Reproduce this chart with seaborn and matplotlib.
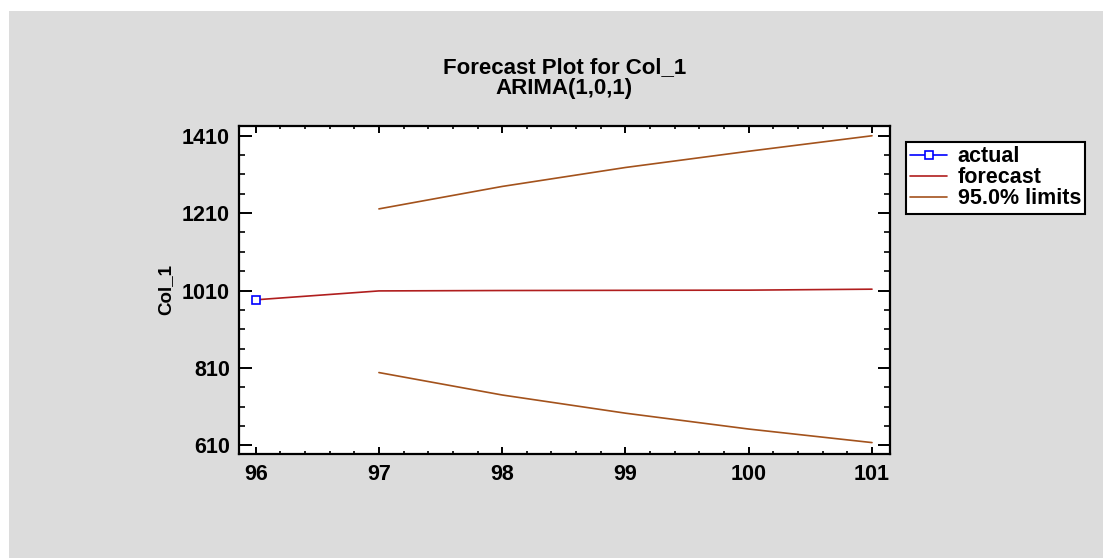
import numpy as np
import pandas as pd
import matplotlib
matplotlib.use("Agg")
import matplotlib.pyplot as plt
from matplotlib.patches import Rectangle
from matplotlib.ticker import FixedLocator
import seaborn as sns

# ---- data ----
periods = [96, 97, 98, 99, 100, 101]
actual_period = [96]
actual_values = [986]
forecast_values = [986, 1009, 1010, 1010.5, 1011, 1013.5]
limit_periods = [97, 98, 99, 100, 101]
upper_limits = [1221, 1279, 1328, 1370, 1410]
lower_limits = [798, 740, 693, 652, 617]
y_major_ticks = [610, 810, 1010, 1210, 1410]
x_major_ticks = [96, 97, 98, 99, 100, 101]

title_text = "Forecast Plot for Col_1\nARIMA(1,0,1)"
y_label = "Col_1"

sns.set_theme(style="ticks")
plt.rcParams['font.family'] = ['Liberation Sans', 'DejaVu Sans']
plt.rcParams['font.weight'] = 'bold'
for k in ["text.color", "axes.labelcolor", "xtick.color", "ytick.color", "axes.edgecolor"]:
    plt.rcParams[k] = "black"

W, H = 1103, 558
fig = plt.figure(figsize=(W / 100, H / 100), dpi=100, facecolor="white")
fig.patches.append(Rectangle((9 / W, 0), 1 - 9 / W, 1 - 11 / H, transform=fig.transFigure,
                             facecolor="#dcdcdc", edgecolor="none", zorder=-10))

ax = fig.add_axes([239 / W, (H - 454) / H, 651 / W, 328.3 / H])
ax.set_facecolor("white")

df_fc = pd.DataFrame({"period": periods, "value": forecast_values})
df_up = pd.DataFrame({"period": limit_periods, "value": upper_limits})
df_lo = pd.DataFrame({"period": limit_periods, "value": lower_limits})
df_act = pd.DataFrame({"period": actual_period, "value": actual_values})

fc_color = "#b01e1e"
lim_color = "#a3521c"

sns.lineplot(data=df_fc, x="period", y="value", ax=ax, color=fc_color, linewidth=1.2,
             label="forecast", zorder=3)
sns.lineplot(data=df_up, x="period", y="value", ax=ax, color=lim_color, linewidth=1.2,
             label="95.0% limits", zorder=2)
sns.lineplot(data=df_lo, x="period", y="value", ax=ax, color=lim_color, linewidth=1.2,
             label="_nolegend_", zorder=2)
sns.lineplot(data=df_act, x="period", y="value", ax=ax, color="blue", linewidth=1.2,
             marker="s", markersize=6, markerfacecolor="white", markeredgecolor="blue",
             markeredgewidth=1.2, label="actual", zorder=4)

ax.set_xlim(95.865, 101.146)
ax.set_ylim(587.5, 1436)

ax.xaxis.set_major_locator(FixedLocator(x_major_ticks))
ax.xaxis.set_minor_locator(FixedLocator(np.arange(95.8, 101.15, 0.2)))
ax.yaxis.set_major_locator(FixedLocator(y_major_ticks))
ax.yaxis.set_minor_locator(FixedLocator(np.arange(610, 1440, 50)))
ax.set_xticklabels([str(v) for v in x_major_ticks])
ax.set_yticklabels([str(v) for v in y_major_ticks])

ax.tick_params(axis="y", which="major", direction="in", length=9, width=1.4,
               left=True, right=True, labelsize=15.5, pad=6.5, colors="black")
ax.tick_params(axis="y", which="minor", direction="in", length=4, width=1.2,
               left=True, right=True)
ax.tick_params(axis="x", which="major", direction="in", length=5, width=1.4,
               bottom=True, top=True, labelsize=15.5, pad=7, colors="black")
ax.tick_params(axis="x", which="minor", direction="in", length=2.5, width=1.2,
               bottom=True, top=True)
for lab in ax.get_xticklabels() + ax.get_yticklabels():
    lab.set_fontweight("bold")

for s in ax.spines.values():
    s.set_visible(True)
    s.set_color("black")
    s.set_linewidth(1.6)

ax.set_xlabel("")
ax.set_ylabel(y_label, fontsize=13.5, fontweight="bold", color="black")
ax.yaxis.set_label_coords(-0.1, 0.5)

ax.set_title(title_text, fontsize=16, fontweight="bold", pad=23, linespacing=0.95,
             color="black")

handles, labels = ax.get_legend_handles_labels()
order = [labels.index("actual"), labels.index("forecast"), labels.index("95.0% limits")]
leg = ax.legend([handles[i] for i in order], [labels[i] for i in order],
                loc="upper left", bbox_to_anchor=(906 / W, 1 - 142 / H),
                bbox_transform=fig.transFigure, frameon=True, fancybox=False,
                framealpha=1, edgecolor="black", facecolor="white",
                prop={"family": "Liberation Sans", "weight": "bold", "size": 15.5},
                handlelength=1.7, handletextpad=0.5, labelspacing=0.0,
                borderpad=0.2, borderaxespad=0)
leg.get_frame().set_linewidth(1.5)
for t in leg.get_texts():
    t.set_color("black")

fig.savefig("out.png", dpi=100, facecolor="white")
